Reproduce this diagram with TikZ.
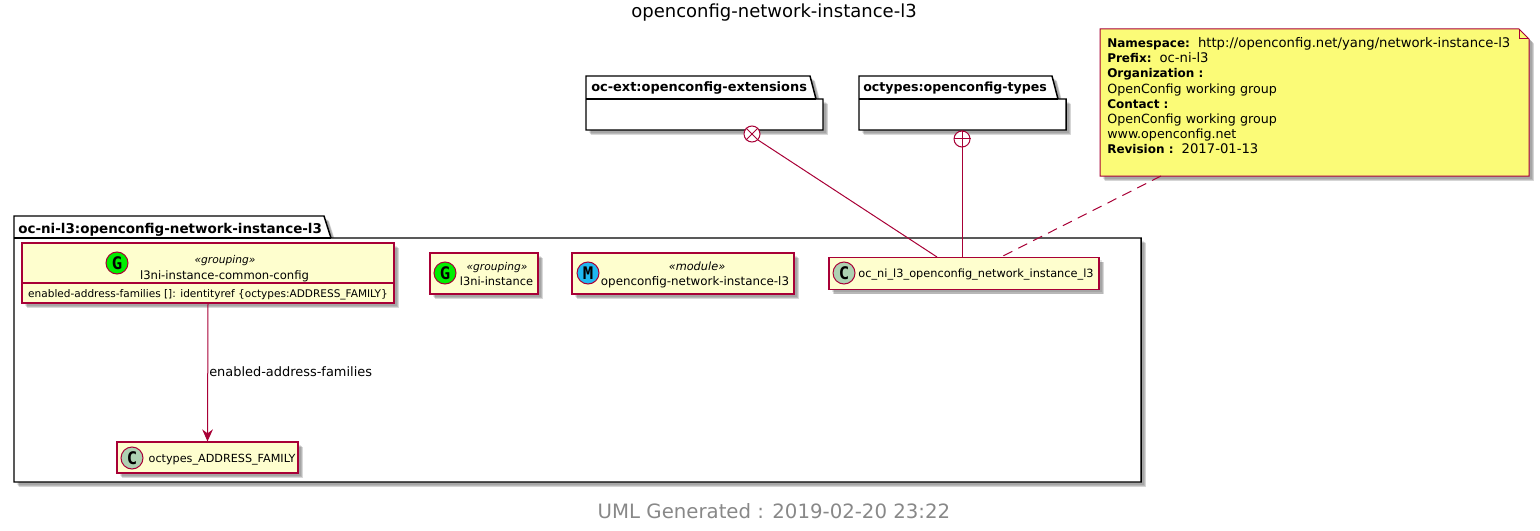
\documentclass[tikz,border=0pt]{standalone}
\usepackage{fontspec}
\setmainfont{DejaVu Sans}
\newfontfamily\iconfont{DejaVu Sans Mono}
\usetikzlibrary{arrows.meta}
\definecolor{umlred}{HTML}{A80036}
\definecolor{umlfill}{HTML}{FEFECE}
\definecolor{notefill}{HTML}{FBFB77}
\definecolor{iconC}{HTML}{ADD1B2}
\definecolor{iconM}{HTML}{1FB8F0}
\definecolor{iconG}{HTML}{00EE00}
\definecolor{footgray}{HTML}{888888}
\newcommand{\notebold}[1]{{\fontsize{9pt}{10pt}\selectfont\bfseries #1}}
\newcommand{\notewide}[1]{{\fontsize{9.9pt}{10pt}\selectfont #1}}
\tikzset{
  softshadow/.style={
    preaction={fill=black,opacity=.10,transform canvas={xshift=2.2pt,yshift=-2.2pt}},
    preaction={fill=black,opacity=.15,transform canvas={xshift=3pt,yshift=-3pt}},
    preaction={fill=black,opacity=.15,transform canvas={xshift=3.6pt,yshift=-3.6pt}}},
  classbox/.style={draw=umlred,fill=umlfill,line width=.9pt,rectangle,inner sep=0,softshadow},
  pkg/.style={draw=black,fill=white,line width=1.1pt,line join=miter,softshadow},
  icon/.style={circle,draw=umlred,line width=.75pt,minimum size=16.5pt,inner sep=0,font=\fontsize{13pt}{11pt}\selectfont\iconfont\bfseries},
  txt/.style={inner sep=0,anchor=base,font=\fontsize{#1}{10pt}\selectfont},
  stereo/.style={inner sep=0,anchor=base,font=\fontsize{#1}{10pt}\selectfont\itshape},
  pkglabel/.style={inner sep=0,anchor=base west,font=\fontsize{#1}{12pt}\selectfont\bfseries},
  notetxt/.style={inner sep=0,anchor=base west,font=\fontsize{9.5pt}{10pt}\selectfont},
  conn/.style={draw=umlred,line width=.75pt},
  endmark/.style={circle,draw=umlred,fill=white,line width=.75pt,minimum size=12pt,inner sep=0},
}
\begin{document}
\begin{tikzpicture}[x=.75pt,y=-.75pt]
\useasboundingbox (0,0) rectangle (1540,531);
\node[inner sep=0,anchor=base,font=\fontsize{13.5pt}{16pt}\selectfont] (title) at (774,17.8) {openconfig-network-instance-l3};
% packages
\draw[pkg] (586,99) -- (586,76) -- (810,76) -- (816,99) -- (823,99) -- (823,130) -- (586,130) -- cycle;
\draw[line width=1.1pt] (586,99) -- (816,99);
\node[pkglabel=9.7pt] (pkgext) at (591,92) {oc-ext:openconfig-extensions};
\draw[pkg] (859,99) -- (859,76) -- (1052,76) -- (1058,99) -- (1066,99) -- (1066,130) -- (859,130) -- cycle;
\draw[line width=1.1pt] (859,99) -- (1058,99);
\node[pkglabel=9.45pt] (pkgtypes) at (863,92) {octypes:openconfig-types};
\draw[pkg] (14,238) -- (14,216) -- (324,216) -- (331,238) -- (1141,238) -- (1141,482) -- (14,482) -- cycle;
\draw[line width=1.1pt] (14,238) -- (331,238);
\node[pkglabel=10.1pt] (pkgni) at (18,233) {oc-ni-l3:openconfig-network-instance-l3};
% note
\draw[draw=umlred,fill=notefill,line width=.75pt,softshadow] (1100,29) -- (1519,29) -- (1529,39) -- (1529,176) -- (1100,176) -- cycle;
\draw[draw=umlred,line width=.75pt] (1519,29) -- (1519,39) -- (1529,39);
\node[notetxt] (n1) at (1107,48) {\notebold{Namespace:}\ \ \notewide{http://openconfig.net/yang/network-instance-l3}};
\node[notetxt] (n2) at (1107,63) {\notebold{Prefix:}\ \ \notewide{oc-ni-l3}};
\node[notetxt] (n3) at (1107,78) {\notebold{Organization :}};
\node[notetxt] (n4) at (1107,94) {OpenConfig working group};
\node[notetxt] (n5) at (1107,109) {\notebold{Contact :}};
\node[notetxt] (n6) at (1107,124) {OpenConfig working group};
\node[notetxt] (n7) at (1107,139) {www.openconfig.net};
\node[notetxt] (n8) at (1107,154) {\notebold{Revision :}\ \ \notewide{2017-01-13}};
% classes
\node[classbox,minimum width=279pt,minimum height=45pt] (bigG) at (208,273) {};
\draw[umlred,line width=.9pt] (22,283) -- (394,283);
\node[icon,fill=iconG] (ig1) at (117,263) {G};
\node[stereo=8pt] (s1) at (225,263.5) {«grouping»};
\node[txt=8.7pt] (t1) at (224.5,279) {l3ni-instance-common-config};
\node[txt=7.9pt] (t1b) at (208,297) {enabled-address-families []: identityref \{octypes:ADDRESS\_FAMILY\}};
\node[classbox,minimum width=81pt,minimum height=30.75pt] (smallG) at (484,273.5) {};
\node[icon,fill=iconG] (ig2) at (445,273) {G};
\node[stereo=8pt] (s2) at (497,270) {«grouping»};
\node[txt=8.55pt] (t2) at (496.5,285) {l3ni-instance};
\node[classbox,minimum width=166.5pt,minimum height=30.75pt] (modbox) at (683,273.5) {};
\node[icon,fill=iconM] (ig3) at (588,273) {M};
\node[stereo=8.5pt] (s3) at (697,270) {«module»};
\node[txt=8.9pt] (t3) at (695,285) {openconfig-network-instance-l3};
\node[classbox,minimum width=202.5pt,minimum height=24pt] (cls) at (964,273.5) {};
\node[icon,fill=iconC] (ig4) at (844,273) {C};
\node[txt=8.5pt] (t4) at (976,277.5) {oc\_ni\_l3\_openconfig\_network\_instance\_l3};
\node[classbox,minimum width=135.75pt,minimum height=23.25pt] (fam) at (207.5,457.5) {};
\node[icon,fill=iconC] (ig5) at (132,458) {C};
\node[txt=8.4pt] (t5) at (222,462) {octypes\_ADDRESS\_FAMILY};
% connectors
\node[endmark] (mext) at (752,134) {};
\draw[umlred,line width=.75pt] (mext.north west) -- (mext.south east) (mext.north east) -- (mext.south west);
\node[endmark] (mtyp) at (962,139) {};
\draw[umlred,line width=.75pt] (mtyp.north) -- (mtyp.south) (mtyp.west) -- (mtyp.east);
\coordinate (ca) at (937,257);
\coordinate (cb) at (962,257);
\coordinate (cc) at (1001,257);
\coordinate (nb) at (1161,176);
\draw[conn] (mext.south east) -- (ca);
\draw[conn] (mtyp) -- (cb);
\draw[conn,dashed,dash pattern=on 7.5pt off 5pt] (nb) -- (cc);
\draw[conn,-{Stealth[length=9pt,width=8pt,inset=3pt]}] (bigG.south) -- (fam.north);
\node[inner sep=0,anchor=base west,font=\fontsize{9.7pt}{11pt}\selectfont] (lbl) at (209,376.5) {enabled-address-families};
\node[inner sep=0,anchor=base,text=footgray,font=\fontsize{14.8pt}{16pt}\selectfont] (foot) at (774,518.5) {UML Generated : 2019-02-20 23:22};
\end{tikzpicture}
\end{document}
